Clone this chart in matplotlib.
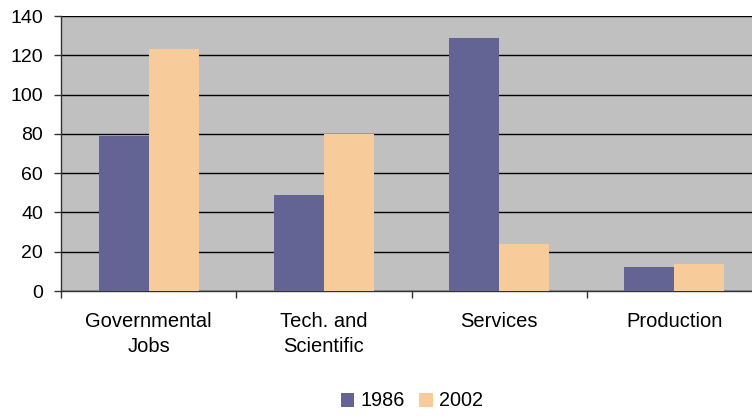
import matplotlib
matplotlib.use("Agg")
import matplotlib.pyplot as plt
import numpy as np
from matplotlib.patches import Patch

categories = ["Governmental\nJobs", "Tech. and\nScientific", "Services", "Production"]
series_names = ["1986", "2002"]
values_1986 = [79, 49, 129, 12]
values_2002 = [123, 80, 24, 14]
yticks = [0, 20, 40, 60, 80, 100, 120, 140]

c1 = "#636394"
c2 = "#F8CB9A"

plt.rcParams['font.family'] = ['Liberation Sans', 'DejaVu Sans']

fig = plt.figure(figsize=(7.52, 4.16), dpi=100)
ax = fig.add_axes([61/752, 125/416, 701/752, 275/416])
ax.set_facecolor("#C0C0C0")

x = np.arange(len(categories))
w = 0.285
ax.bar(x - w/2, values_1986, w, color=c1, edgecolor='none', zorder=3)
ax.bar(x + w/2, values_2002, w, color=c2, edgecolor='none', zorder=3)

ax.set_xlim(-0.5, len(categories) - 0.5)
ax.set_ylim(0, 140)
ax.set_yticks(yticks)
ax.yaxis.grid(True, color='black', linewidth=1, zorder=1)
ax.set_axisbelow(True)

ax.set_xticks(x)
ax.set_xticklabels(categories, fontsize=14.5, linespacing=1.42)
ax.set_xticks(np.arange(-0.5, len(categories)), minor=True)
ax.tick_params(axis='x', which='major', length=0, pad=15)
ax.tick_params(axis='x', which='minor', length=5, width=1, color='#333333')
ax.tick_params(axis='y', length=5, width=1, color='#333333', labelsize=14, pad=8)

for s in ['top', 'right']:
    ax.spines[s].set_visible(False)
for s in ['left', 'bottom']:
    ax.spines[s].set_color('#333333')
    ax.spines[s].set_linewidth(1)

handles = [Patch(facecolor=c1, edgecolor='none'), Patch(facecolor=c2, edgecolor='none')]
fig.legend(handles, series_names, loc='center', bbox_to_anchor=(411.5/752, 1 - 401/416),
           ncol=2, frameon=False, fontsize=14.3, handlelength=0.7, handleheight=0.7,
           handletextpad=0.3, columnspacing=0.7)

fig.savefig("out.png", dpi=100)
